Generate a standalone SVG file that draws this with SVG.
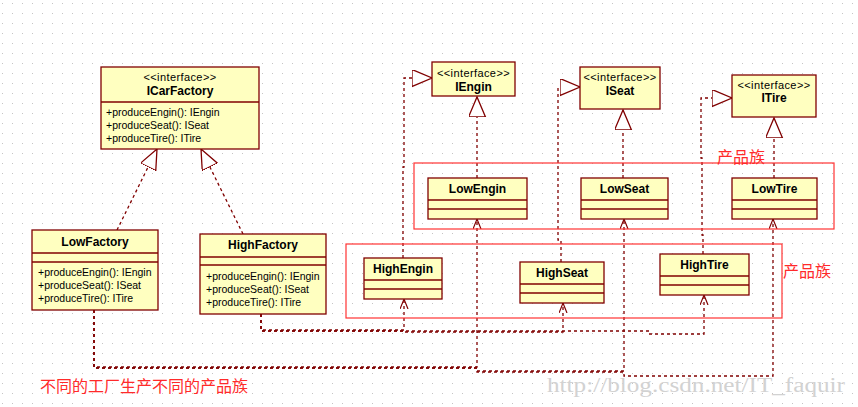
<svg xmlns="http://www.w3.org/2000/svg" width="858" height="407" viewBox="0 0 858 407">
<style>
.box{fill:#ffffc0;stroke:#800000;stroke-width:1.3}
.div{stroke:#800000;stroke-width:1.3}
.t{font-family:"Liberation Sans",Arial,sans-serif;font-size:10.5px;fill:#000}
.b{font-family:"Liberation Sans",Arial,sans-serif;font-size:12px;font-weight:bold;fill:#000;text-anchor:middle}
.st{font-family:"Liberation Sans",Arial,sans-serif;font-size:11px;letter-spacing:0.4px;fill:#000;text-anchor:middle}
.real{fill:none;stroke:#800000;stroke-width:1.3;stroke-dasharray:3,3;marker-end:url(#tri)}
.dep{fill:none;stroke:#800000;stroke-width:1.3;stroke-dasharray:3,3;marker-end:url(#open)}
.grp{fill:none;stroke:#ff3333;stroke-width:1.2}
.cn{font-family:"Noto Sans CJK SC",sans-serif;font-size:16px;fill:#ff2a2a}
</style>
<defs>
<pattern id="grid" width="10" height="10" patternUnits="userSpaceOnUse">
<rect x="2" y="3" width="1" height="1" fill="#c4c4c4"/>
</pattern>
<marker id="tri" markerUnits="userSpaceOnUse" markerWidth="22" markerHeight="18" refX="20" refY="8.5" orient="auto">
<path d="M0,0 L20,8.5 L0,17 Z" fill="#fff" stroke="#800000" stroke-width="1.3"/>
</marker>
<marker id="open" markerUnits="userSpaceOnUse" markerWidth="12" markerHeight="10" refX="10" refY="4" orient="auto">
<path d="M0,0 L10,4 L0,8" fill="none" stroke="#800000" stroke-width="1.2"/>
</marker>
</defs>
<rect width="858" height="407" fill="#fff"/>
<rect width="858" height="407" fill="url(#grid)"/>

<g id="connectors">
<path class="real" d="M117,230 L157,149"/>
<path class="real" d="M243,234 L201,149"/>
<path class="real" d="M403,258 V167 H404 V78 H432"/>
<path class="real" d="M477,178 V97"/>
<path class="real" d="M561,262 V240 H558 V87 H580"/>
<path class="real" d="M623,178 V110"/>
<path class="real" d="M703,254 V235 H702 V158 H701 V98 H732"/>
<path class="real" d="M774,178 V118"/>
<path class="dep" d="M261,314 V330 H404 V299"/>
<path class="dep" d="M261,314 V331 H404 V332 H563 V303"/>
<path class="dep" d="M261,314 V331 H649 V334 H704 V295"/>
<path class="dep" d="M94,310 V367 H477 V219"/>
<path class="dep" d="M94,310 V368 H477 V371 H624 V219"/>
<path class="dep" d="M94,310 V368 H477 V372 H624 V376 H773 V219"/>
</g>

<g id="ICarFactory">
<rect class="box" x="101" y="67" width="158" height="82"/>
<line class="div" x1="101" y1="102" x2="259" y2="102"/>
<text class="st" x="180" y="81">&lt;&lt;interface&gt;&gt;</text>
<text class="b" x="180" y="95">ICarFactory</text>
<text class="t" x="106" y="116">+produceEngin(): IEngin</text>
<text class="t" x="106" y="129">+produceSeat(): ISeat</text>
<text class="t" x="106" y="142">+produceTire(): ITire</text>
</g>

<g id="IEngin">
<rect class="box" x="432" y="62" width="83" height="34"/>
<text class="st" x="473.5" y="77">&lt;&lt;interface&gt;&gt;</text>
<text class="b" x="473.5" y="91">IEngin</text>
</g>
<g id="ISeat">
<rect class="box" x="580" y="67" width="80" height="42"/>
<text class="st" x="620" y="81">&lt;&lt;interface&gt;&gt;</text>
<text class="b" x="620" y="95">ISeat</text>
</g>
<g id="ITire">
<rect class="box" x="732" y="75" width="84" height="42"/>
<text class="st" x="774" y="89">&lt;&lt;interface&gt;&gt;</text>
<text class="b" x="774" y="102">ITire</text>
</g>

<g id="LowFactory">
<rect class="box" x="32" y="230" width="126" height="80"/>
<line class="div" x1="32" y1="253" x2="158" y2="253"/>
<line class="div" x1="32" y1="262" x2="158" y2="262"/>
<text class="b" x="95" y="246">LowFactory</text>
<text class="t" x="38" y="276">+produceEngin(): IEngin</text>
<text class="t" x="38" y="289">+produceSeat(): ISeat</text>
<text class="t" x="38" y="302">+produceTire(): ITire</text>
</g>
<g id="HighFactory">
<rect class="box" x="200" y="234" width="126" height="80"/>
<line class="div" x1="200" y1="257" x2="326" y2="257"/>
<line class="div" x1="200" y1="265" x2="326" y2="265"/>
<text class="b" x="263" y="249">HighFactory</text>
<text class="t" x="206" y="280">+produceEngin(): IEngin</text>
<text class="t" x="206" y="293">+produceSeat(): ISeat</text>
<text class="t" x="206" y="306">+produceTire(): ITire</text>
</g>

<g id="LowEngin">
<rect class="box" x="428" y="178" width="99" height="41"/>
<line class="div" x1="428" y1="200" x2="527" y2="200"/>
<line class="div" x1="428" y1="209" x2="527" y2="209"/>
<text class="b" x="477.5" y="193">LowEngin</text>
</g>
<g id="LowSeat">
<rect class="box" x="581" y="178" width="87" height="41"/>
<line class="div" x1="581" y1="200" x2="668" y2="200"/>
<line class="div" x1="581" y1="209" x2="668" y2="209"/>
<text class="b" x="624.5" y="193">LowSeat</text>
</g>
<g id="LowTire">
<rect class="box" x="732" y="178" width="85" height="41"/>
<line class="div" x1="732" y1="200" x2="817" y2="200"/>
<line class="div" x1="732" y1="209" x2="817" y2="209"/>
<text class="b" x="774.5" y="193">LowTire</text>
</g>
<g id="HighEngin">
<rect class="box" x="364" y="258" width="78" height="41"/>
<line class="div" x1="364" y1="280" x2="442" y2="280"/>
<line class="div" x1="364" y1="289" x2="442" y2="289"/>
<text class="b" x="403" y="273">HighEngin</text>
</g>
<g id="HighSeat">
<rect class="box" x="520" y="262" width="84" height="41"/>
<line class="div" x1="520" y1="284" x2="604" y2="284"/>
<line class="div" x1="520" y1="293" x2="604" y2="293"/>
<text class="b" x="562" y="277">HighSeat</text>
</g>
<g id="HighTire">
<rect class="box" x="660" y="254" width="89" height="41"/>
<line class="div" x1="660" y1="276" x2="749" y2="276"/>
<line class="div" x1="660" y1="285" x2="749" y2="285"/>
<text class="b" x="704.5" y="269">HighTire</text>
</g>

<g id="lowFamily">
<rect class="grp" x="414" y="163" width="420" height="66"/>
<text class="cn" x="717" y="163">产品族</text>
</g>
<g id="highFamily">
<rect class="grp" x="346" y="244" width="436" height="74"/>
<text class="cn" x="783" y="277">产品族</text>
</g>

<text class="cn" x="40" y="392">不同的工厂生产不同的产品族</text>
<text x="547" y="392" textLength="298" lengthAdjust="spacingAndGlyphs" font-family="Liberation Serif,serif" font-size="20" fill="#d2d2d2">http://blog.csdn.net/IT_faquir</text>
</svg>
